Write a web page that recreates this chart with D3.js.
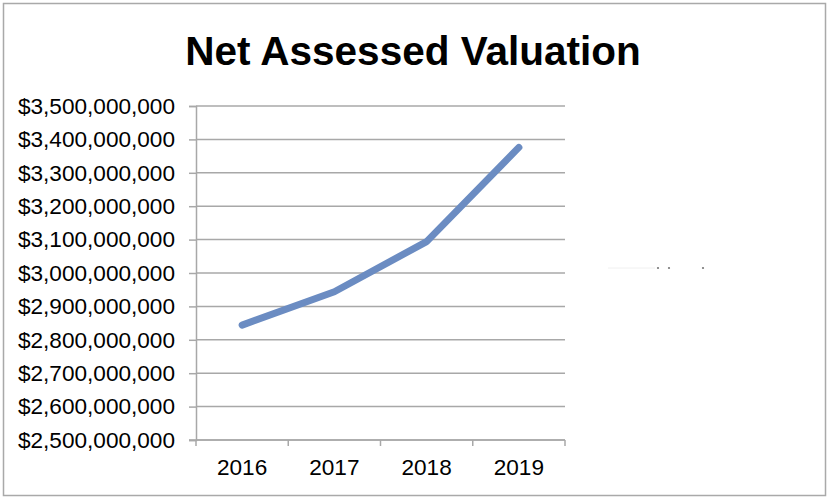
<!DOCTYPE html>
<html>
<head>
<meta charset="utf-8">
<script src="https://cdn.jsdelivr.net/npm/d3@7"></script>
<style>
  html, body { margin: 0; padding: 0; background: #fff; }
  svg { display: block; }
</style>
</head>
<body>
<script>
const years = ["2016", "2017", "2018", "2019"];
const valuation = [2844000000, 2944000000, 3094000000, 3376000000];
const yTicks = [2500000000, 2600000000, 2700000000, 2800000000, 2900000000, 3000000000,
                3100000000, 3200000000, 3300000000, 3400000000, 3500000000];
const title = "Net Assessed Valuation";

const W = 830, H = 500;
const plot = { left: 196, right: 565, top: 106, bottom: 440 };
const font = "'Liberation Sans', Arial, Helvetica, sans-serif";
const gridColor = "#a8a8a8";

const svg = d3.select("body").append("svg").attr("width", W).attr("height", H);

// chart frame
svg.append("rect").attr("x", 3.5).attr("y", 3.5).attr("width", 822).attr("height", 492)
  .attr("fill", "#fff").attr("stroke", "#a9a9a9").attr("stroke-width", 1.5);

const x = d3.scaleBand().domain(years).range([plot.left, plot.right]);
const y = d3.scaleLinear().domain([yTicks[0], yTicks[yTicks.length - 1]]).range([plot.bottom, plot.top]);

// gridlines
svg.append("g").selectAll("line").data(yTicks).join("line")
  .attr("x1", plot.left).attr("x2", plot.right)
  .attr("y1", d => y(d)).attr("y2", d => y(d))
  .attr("stroke", gridColor).attr("stroke-width", 1.5);

// y axis
const yAxis = svg.append("g").attr("transform", `translate(${plot.left},0)`)
  .call(d3.axisLeft(y).tickValues(yTicks).tickSize(7).tickPadding(14)
    .tickFormat(d => "$" + d3.format(",")(d)));
yAxis.select(".domain").attr("stroke", gridColor).attr("stroke-width", 1.5);
yAxis.selectAll(".tick line").attr("stroke", gridColor).attr("stroke-width", 1.5);
yAxis.selectAll(".tick text").attr("font-family", font).attr("font-size", 22.6).attr("fill", "#000");

// x axis
const xg = svg.append("g");
xg.append("line").attr("x1", plot.left - 7).attr("x2", plot.right)
  .attr("y1", plot.bottom).attr("y2", plot.bottom)
  .attr("stroke", gridColor).attr("stroke-width", 1.5);
const tickXs = years.map(d => x(d)).concat([x.range()[1]]);
xg.selectAll("line.tk").data(tickXs).join("line").attr("class", "tk")
  .attr("x1", d => d).attr("x2", d => d)
  .attr("y1", plot.bottom).attr("y2", plot.bottom + 6)
  .attr("stroke", gridColor).attr("stroke-width", 1.5);
xg.selectAll("text").data(years).join("text")
  .attr("x", d => x(d) + x.bandwidth() / 2).attr("y", 475)
  .attr("text-anchor", "middle")
  .attr("font-family", font).attr("font-size", 22.6).attr("fill", "#000")
  .text(d => d);

// line
const line = d3.line()
  .x((d, i) => x(years[i]) + x.bandwidth() / 2)
  .y(d => y(d));
svg.append("path").datum(valuation)
  .attr("d", line)
  .attr("fill", "none")
  .attr("stroke", "#6b8cc2")
  .attr("stroke-width", 7)
  .attr("stroke-linecap", "round")
  .attr("stroke-linejoin", "round");

// title
svg.append("text").attr("x", 413).attr("y", 65)
  .attr("text-anchor", "middle")
  .attr("font-family", font).attr("font-weight", "bold").attr("font-size", 40.5)
  .attr("fill", "#000").text(title);

// faint remnant of hidden legend
svg.append("line").attr("x1", 608).attr("x2", 655).attr("y1", 268).attr("y2", 268)
  .attr("stroke", "#f0f0f0").attr("stroke-width", 1);
svg.selectAll("circle.dot").data([658, 669, 703]).join("circle").attr("class", "dot")
  .attr("cx", d => d).attr("cy", 268).attr("r", 1.1).attr("fill", "#777");
</script>
</body>
</html>
